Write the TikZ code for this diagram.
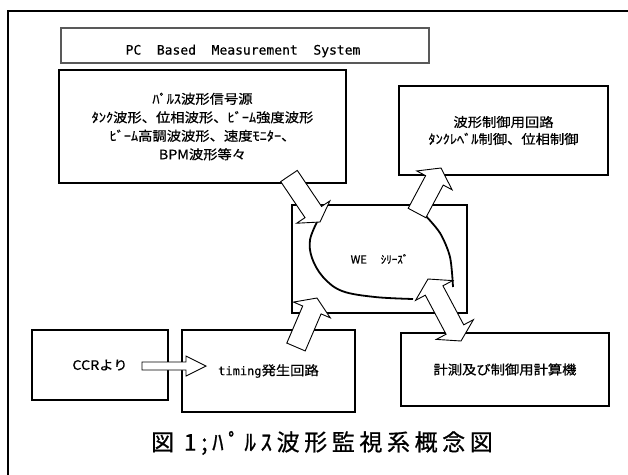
\documentclass[tikz,border=0pt]{standalone}
\usepackage{fontspec}
\usetikzlibrary{calc}
\newfontfamily\jp[FakeStretch=1.1,FakeBold=0.6]{Noto Sans CJK JP}
\newfontfamily\jpsm[FakeBold=0.6]{Noto Sans CJK JP}
\newfontfamily\jpcap[LetterSpace=20,FakeBold=0.8]{Noto Sans CJK JP}
\newfontfamily\mono[FakeBold=0.5]{DejaVu Sans Mono}
\newcommand\blkarrow[5]{%
  \coordinate (ba-h) at ($(#2)!#5!(#1)$);
  \draw[blockarr] ($(#1)!#3!90:(#2)$) -- ($(ba-h)!#3!90:(#2)$) -- ($(ba-h)!#4!90:(#2)$) -- (#2)
    -- ($(ba-h)!#4!-90:(#2)$) -- ($(ba-h)!#3!-90:(#2)$) -- ($(#1)!#3!-90:(#2)$) -- cycle;}
\newcommand\dblkarrow[5]{%
  \coordinate (ba-h) at ($(#2)!#5!(#1)$);
  \coordinate (ba-t) at ($(#1)!#5!(#2)$);
  \draw[blockarr] (#1) -- ($(ba-t)!#4!90:(#2)$) -- ($(ba-t)!#3!90:(#2)$) -- ($(ba-h)!#3!90:(#2)$)
    -- ($(ba-h)!#4!90:(#2)$) -- (#2) -- ($(ba-h)!#4!-90:(#2)$) -- ($(ba-h)!#3!-90:(#2)$)
    -- ($(ba-t)!#3!-90:(#2)$) -- ($(ba-t)!#4!-90:(#2)$) -- cycle;}
\tikzset{
  box/.style={draw, line width=1.9pt, fill=white, inner sep=0pt, align=center,
    font=\jp\fontsize{13}{18.5}\selectfont},
  blockarr/.style={draw, fill=white, line width=0.9pt, line join=miter},
  flow/.style={line width=1.8pt},
}
\begin{document}
\begin{tikzpicture}[x=1pt,y=-1pt]
\useasboundingbox (0,0) rectangle (628,474);
\draw[line width=1.4pt] (8,11) rectangle (640,490);
% title
\node[draw=black!65, line width=1.1pt, minimum width=368pt, minimum height=35pt] (title) at (245,45.5) {};
\node[font=\mono\fontsize{13}{15}\selectfont] (titletext) at (243,51) {PC~~Based~~Measurement~~System};
% boxes
\node[box, minimum width=287pt, minimum height=113pt] (src) at (202.5,126.5)
  {ﾊﾟﾙｽ波形信号源\\ﾀﾝｸ波形、位相波形、ﾋﾞｰﾑ強度波形\\ﾋﾞｰﾑ高調波波形、速度ﾓﾆﾀｰ、\\BPM波形等々};
\node[box, minimum width=209pt, minimum height=89pt, font=\jp\fontsize{13}{17}\selectfont] (ctl) at (503.5,130.5)
  {波形制御用回路\\ﾀﾝｸﾚﾍﾞﾙ制御、位相制御};
\node[box, minimum width=175pt, minimum height=108pt, font=\jpsm\fontsize{11}{13}\selectfont] (we) at (379.5,259)
  {WE\hspace{14pt}ｼﾘｰｽﾞ};
\node[box, minimum width=136pt, minimum height=70pt] (ccr) at (100,365) {CCRより};
\node[box, minimum width=173pt, minimum height=82pt] (tim) at (268.5,371)
  {{\mono\fontsize{12}{14}\selectfont timing}発生回路};
\node[box, minimum width=208pt, minimum height=73pt] (pc) at (505,369.5) {計測及び制御用計算機};
% caption
\node[font=\jpcap\fontsize{23}{26}\selectfont] (cap) at (322,443) {図 1;ﾊﾟﾙｽ波形監視系概念図};
% flow curves inside WE box
\draw[flow] plot[smooth, tension=0.6] coordinates {(317,222) (310,240) (312,258) (323,277) (342,291) (375,297) (413,299)};
\draw[flow] plot[smooth] coordinates {(424,214) (440,233) (450,257) (453,287)};
% block arrows
\coordinate (a1) at (289,176); \coordinate (a2) at (320,222);
\coordinate (b1) at (417,213); \coordinate (b2) at (441,168);
\coordinate (c1) at (296,347); \coordinate (c2) at (317,298);
\coordinate (d1) at (428,279); \coordinate (d2) at (461,341);
\coordinate (e1) at (142,366); \coordinate (e2) at (206,366);
\blkarrow{a1}{a2}{10pt}{20pt}{12pt}
\blkarrow{b1}{b2}{10pt}{20pt}{14pt}
\blkarrow{c1}{c2}{10pt}{20pt}{13pt}
\dblkarrow{d1}{d2}{10pt}{21pt}{13pt}
\blkarrow{e1}{e2}{4pt}{10pt}{20pt}
\end{tikzpicture}
\end{document}
